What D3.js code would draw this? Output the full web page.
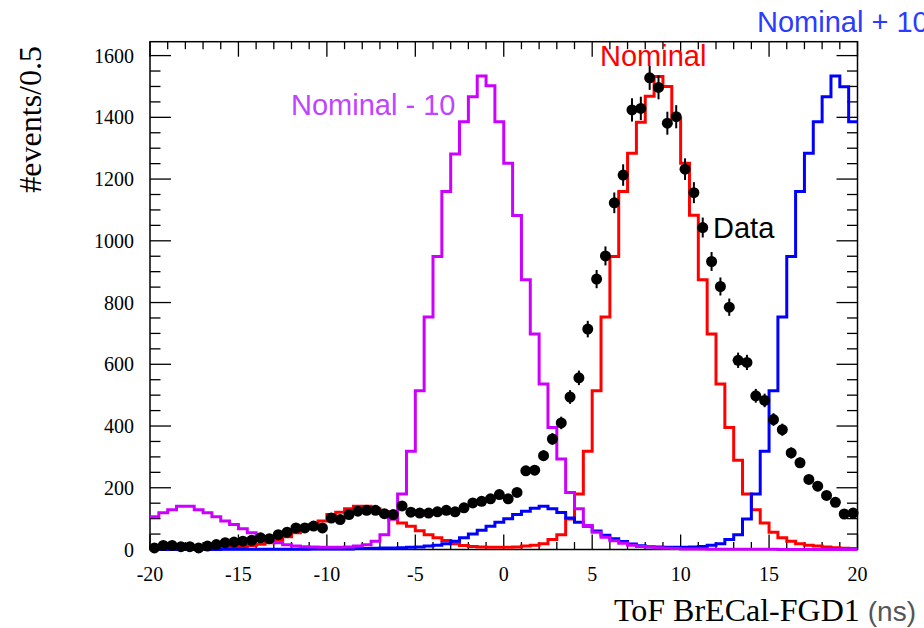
<!DOCTYPE html>
<html>
<head>
<meta charset="utf-8">
<script src="https://cdn.jsdelivr.net/npm/d3@7"></script>
<style>
    html, body { margin: 0; padding: 0; background: #ffffff; }
    svg { display: block; }
</style>
</head>
<body>
<div class="Chart"></div>
<script>

// bins of 0.5 ns from -20 to 20 (80 bins)
const bin_low = -20;
const bin_high = 20;
const bin_width = 0.5;

const nominal = [
    1, 1, 1, 2, 2, 3, 4, 5, 7, 8,
    10, 13, 17, 22, 30, 41, 54, 67, 81, 92,
    113, 121, 132, 140, 140, 132, 122, 99, 86, 75,
    61, 48, 38, 29, 19, 13, 10, 8, 7, 7,
    7, 8, 11, 14, 19, 32, 48, 99, 180, 318,
    514, 753, 949, 1160, 1284, 1384, 1468, 1532, 1500, 1397,
    1251, 1083, 874, 698, 536, 395, 289, 180, 129, 86,
    56, 38, 27, 19, 14, 11, 8, 6, 4, 3
];

const nominal_minus_10 = [
    106, 119, 129, 140, 140, 129, 119, 106, 92, 81,
    67, 54, 41, 30, 22, 15, 11, 9, 8, 7,
    7, 7, 8, 11, 15, 27, 48, 99, 180, 318,
    514, 753, 949, 1160, 1281, 1386, 1467, 1534, 1502, 1386,
    1251, 1082, 874, 698, 536, 395, 293, 185, 132, 78,
    56, 40, 28, 20, 14, 10, 8, 6, 4, 3,
    2, 2, 2, 1, 1, 1, 1, 1, 1, 1,
    1, 0, 0, 0, 0, 0, 0, 0, 0, 0
];

const nominal_plus_10 = [
    0, 0, 0, 0, 0, 0, 0, 0, 1, 1,
    1, 1, 1, 1, 1, 1, 1, 1, 2, 2,
    2, 2, 2, 3, 3, 4, 5, 5, 6, 7,
    8, 11, 14, 19, 27, 38, 50, 62, 75, 88,
    100, 113, 124, 134, 140, 132, 120, 102, 88, 75,
    60, 46, 35, 26, 18, 12, 9, 8, 7, 7,
    7, 8, 10, 14, 19, 32, 48, 99, 180, 318,
    514, 753, 949, 1160, 1284, 1386, 1467, 1534, 1499, 1386
];

const data_counts = [
    5, 13, 13, 9, 9, 5, 11, 16, 22, 24,
    27, 30, 38, 35, 48, 56, 70, 70, 76, 70,
    102, 97, 113, 124, 127, 127, 116, 113, 141, 121,
    118, 118, 122, 127, 122, 135, 151, 156, 164, 178,
    164, 185, 255, 257, 304, 358, 410, 494, 556, 714,
    876, 951, 1123, 1213, 1424, 1429, 1528, 1497, 1381, 1402,
    1232, 1156, 1043, 933, 852, 785, 613, 606, 498, 483,
    421, 388, 313, 281, 227, 205, 175, 153, 115, 118
];

const x_ticks = [-20, -15, -10, -5, 0, 5, 10, 15, 20];
const y_ticks = [0, 200, 400, 600, 800, 1000, 1200, 1400, 1600];

const series = [
    {name: "Nominal", values: nominal, color: "#ff0000"},
    {name: "Nominal + 10", values: nominal_plus_10, color: "#0000ff"},
    {name: "Nominal - 10", values: nominal_minus_10, color: "#cc00ff"}
];

const labels = [
    {text: "Nominal + 10", x: 757, y: 32, color: "#2b3bff"},
    {text: "Nominal", x: 600, y: 66, color: "#ff0000"},
    {text: "Nominal - 10", x: 291, y: 115, color: "#c044ff"},
    {text: "Data", x: 713, y: 238, color: "#000000"}
];

const width = 924;
const height = 628;
const frame = {left: 150, right: 857.5, top: 41.7, bottom: 549.5};

const svg = d3.select(".Chart")
    .append("svg")
    .attr("width", width)
    .attr("height", height);

const x = d3.scaleLinear()
    .domain([bin_low, bin_high])
    .range([frame.left, frame.right]);

const y = d3.scaleLinear()
    .domain([0, 1645])
    .range([frame.bottom, frame.top]);

const bin_edges = d3.range(nominal.length).map(i => bin_low + i * bin_width);

svg.append("clipPath")
    .attr("id", "plot_clip")
    .append("rect")
    .attr("x", frame.left)
    .attr("y", frame.top)
    .attr("width", frame.right - frame.left)
    .attr("height", frame.bottom - frame.top + 2);

// frame
svg.append("rect")
    .attr("x", frame.left)
    .attr("y", frame.top)
    .attr("width", frame.right - frame.left)
    .attr("height", frame.bottom - frame.top)
    .attr("fill", "none")
    .attr("stroke", "#000000")
    .attr("stroke-width", 1.5);

// ROOT style ticks on all four sides
const x_tick_len = 15;
const y_tick_len = 21;
const x_minor = d3.range(bin_low, bin_high + 0.001, 1);
const y_minor = d3.range(0, 1645, 50);

const axis_ticks = svg.append("g")
    .attr("stroke", "#000000")
    .attr("stroke-width", 1.3);

x_minor.forEach(v => {
    const len = x_ticks.includes(v) ? x_tick_len : x_tick_len / 2;
    axis_ticks.append("line")
        .attr("x1", x(v)).attr("x2", x(v))
        .attr("y1", frame.bottom).attr("y2", frame.bottom - len);
    axis_ticks.append("line")
        .attr("x1", x(v)).attr("x2", x(v))
        .attr("y1", frame.top).attr("y2", frame.top + len);
});

y_minor.forEach(v => {
    const len = y_ticks.includes(v) ? y_tick_len : y_tick_len / 2;
    axis_ticks.append("line")
        .attr("x1", frame.left).attr("x2", frame.left + len)
        .attr("y1", y(v)).attr("y2", y(v));
    axis_ticks.append("line")
        .attr("x1", frame.right).attr("x2", frame.right - len)
        .attr("y1", y(v)).attr("y2", y(v));
});

// tick labels
svg.append("g")
    .selectAll("text")
    .data(x_ticks)
    .join("text")
    .attr("x", d => x(d))
    .attr("y", 581)
    .attr("text-anchor", "middle")
    .attr("font-family", "Liberation Serif, serif")
    .attr("font-size", 20)
    .text(d => d);

svg.append("g")
    .selectAll("text")
    .data(y_ticks)
    .join("text")
    .attr("x", 134)
    .attr("y", d => y(d))
    .attr("dy", "0.35em")
    .attr("text-anchor", "end")
    .attr("font-family", "Liberation Serif, serif")
    .attr("font-size", 20)
    .text(d => d);

// axis titles
svg.append("text")
    .attr("transform", "translate(41, 46) rotate(-90)")
    .attr("text-anchor", "end")
    .attr("font-family", "Liberation Serif, serif")
    .attr("font-size", 32)
    .text("#events/0.5");

const x_title = svg.append("text")
    .attr("x", 916)
    .attr("y", 621)
    .attr("text-anchor", "end")
    .attr("font-family", "Liberation Serif, serif")
    .attr("font-size", 32);
x_title.append("tspan").text("ToF BrECal-FGD1 ");
x_title.append("tspan")
    .attr("font-family", "Liberation Sans, Arial, sans-serif")
    .attr("font-size", 28)
    .attr("fill", "#555555")
    .text("(ns)");

// histograms, drawn as ROOT outlines
const step_line = d3.line()
    .x(d => x(d[0]))
    .y(d => y(d[1]))
    .curve(d3.curveStepAfter);

const hist_layer = svg.append("g").attr("clip-path", "url(#plot_clip)");

series.forEach(s => {
    const points = bin_edges.map((e, i) => [e, s.values[i]]);
    points.push([bin_high, s.values[s.values.length - 1]]);
    hist_layer.append("path")
        .attr("class", "Hist")
        .attr("d", step_line(points))
        .attr("fill", "none")
        .attr("stroke", s.color)
        .attr("stroke-width", 3);
});

// data points with poisson errors
const data_layer = svg.append("g").attr("class", "Data");

data_layer.selectAll("line")
    .data(data_counts)
    .join("line")
    .attr("x1", (d, i) => x(bin_edges[i] + bin_width / 2))
    .attr("x2", (d, i) => x(bin_edges[i] + bin_width / 2))
    .attr("y1", d => y(d - Math.sqrt(d)))
    .attr("y2", d => y(d + Math.sqrt(d)))
    .attr("stroke", "#000000")
    .attr("stroke-width", 2);

data_layer.selectAll("circle")
    .data(data_counts)
    .join("circle")
    .attr("cx", (d, i) => x(bin_edges[i] + bin_width / 2))
    .attr("cy", d => y(d))
    .attr("r", 5.5)
    .attr("fill", "#000000");

// series labels
svg.append("g")
    .selectAll("text")
    .data(labels)
    .join("text")
    .attr("x", d => d.x)
    .attr("y", d => d.y)
    .attr("fill", d => d.color)
    .attr("font-family", "Liberation Sans, Arial, sans-serif")
    .attr("font-size", 29)
    .text(d => d.text);

</script>
</body>
</html>
